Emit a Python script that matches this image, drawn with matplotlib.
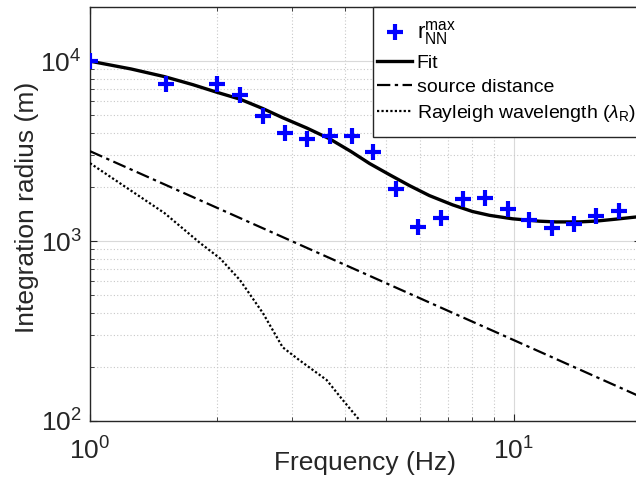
import numpy as np
import matplotlib
matplotlib.use("Agg")
import matplotlib.pyplot as plt
from matplotlib.patches import Rectangle
from matplotlib.ticker import LogLocator, NullFormatter

plt.rcParams['font.family'] = ['Liberation Sans', 'DejaVu Sans']
plt.rcParams['mathtext.fontset'] = 'custom'
plt.rcParams['mathtext.rm'] = 'Liberation Sans'
plt.rcParams['mathtext.it'] = 'Liberation Sans:italic'
plt.rcParams['mathtext.bf'] = 'Liberation Sans:bold'

# r_NN^max data points
f_pts = [1.0, 1.51, 2.0, 2.26, 2.56, 2.88, 3.25, 3.68, 4.15, 4.67, 5.27, 5.94,
         6.73, 7.59, 8.55, 9.68, 10.9, 12.3, 13.9, 15.7, 17.7]
r_pts = [10000, 7450, 7450, 6480, 4950, 3980, 3690, 3830, 3830, 3120, 1950, 1200,
         1340, 1710, 1730, 1510, 1310, 1180, 1240, 1380, 1470]

# Fit curve
f_fit = [1.0, 1.25, 1.5, 1.75, 2.0, 2.26, 2.56, 2.85, 3.25, 3.68, 4.13, 4.57,
         5.11, 5.69, 6.33, 7.18, 8.0, 8.78, 9.95, 11.5, 12.6, 14.3, 15.7, 17.5,
         19.4, 20.0]
r_fit = [10000, 9050, 8200, 7400, 6700, 6150, 5450, 4850, 4250, 3700, 3150, 2700,
         2330, 2030, 1790, 1590, 1460, 1390, 1330, 1290, 1278, 1278, 1292, 1325,
         1360, 1372]

# Source distance
f_src = [1.0, 10.0, 20.0]
r_src = [3160, 282, 136]

# Rayleigh wavelength
f_ray = [1.0, 1.5, 1.82, 2.03, 2.26, 2.56, 2.85, 3.12, 3.62, 3.95, 4.33]
r_ray = [2710, 1430, 975, 800, 607, 398, 257, 218, 169, 131, 101]

W, H = 636, 479
fig = plt.figure(figsize=(W/100, H/100), dpi=100)
ax = fig.add_axes([90/W, 1-421/H, 551/W, 414/H])

ax.plot(f_pts, r_pts, linestyle='none', marker='+', color=(0, 0, 1),
        markersize=11, markeredgewidth=3, label=r'$\mathrm{r}_{\mathrm{NN}}^{\mathrm{max}}$',
        zorder=4)
ax.plot(f_fit, r_fit, color='black', lw=2.4, label='Fit', zorder=3)
ax.plot(f_src, r_src, color='black', lw=1.6, linestyle=(0, (6, 2, 1.5, 2)),
        label='source distance', zorder=3)
ax.plot(f_ray, r_ray, color='black', lw=1.6, linestyle=(0, (1, 1)),
        label=r'Rayleigh wavelength ($\lambda_\mathrm{R}$)', zorder=3)

ax.set_xscale('log')
ax.set_yscale('log')
ax.set_xlim(1, 20)
ax.set_ylim(100, 20000)

ax.xaxis.set_major_locator(LogLocator(base=10, numticks=10))
ax.yaxis.set_major_locator(LogLocator(base=10, numticks=10))
ax.xaxis.set_minor_locator(LogLocator(base=10, subs=np.arange(2, 10), numticks=20))
ax.yaxis.set_minor_locator(LogLocator(base=10, subs=np.arange(2, 10), numticks=20))
ax.xaxis.set_minor_formatter(NullFormatter())
ax.yaxis.set_minor_formatter(NullFormatter())

ax.grid(True, which='major', color='#d9d9d9', linestyle='-', lw=0.8)
ax.grid(True, which='minor', color='#c8c8c8', linestyle=(0, (1, 2)), lw=0.8)
ax.set_axisbelow(True)

ax.tick_params(which='both', direction='in', top=True, right=True, colors='#262626')
ax.tick_params(which='major', length=5, width=0.8, labelsize=19)
ax.tick_params(which='minor', length=3, width=0.6)
ax.tick_params(axis='x', which='major', pad=12)
ax.tick_params(axis='y', which='major', pad=6)
for s in ax.spines.values():
    s.set_color('#262626')
    s.set_linewidth(1.0)

ax.set_xlabel('Frequency (Hz)', fontsize=19, color='#262626', va='center')
ax.xaxis.set_label_coords(0.5, -0.101)
ax.set_ylabel('Integration radius (m)', fontsize=19, color='#262626', va='center')
ax.yaxis.set_label_coords(-0.114, 0.517)

# legend frame drawn as a figure rectangle (extends past the right edge)
frame = Rectangle((373/W, 1-137/H), 0.6, 130/H, transform=fig.transFigure,
                  facecolor='white', edgecolor='#262626', lw=1.0, zorder=4)
fig.patches.append(frame)

leg = fig.legend(loc='upper left', bbox_to_anchor=(377/W, 1-19/H),
                 fontsize=14, frameon=False, handlelength=1.8, handletextpad=0.25,
                 labelspacing=0.36, borderaxespad=0, borderpad=0)
leg.set_zorder(6)
leg.get_texts()[0].set_fontsize(16)

fig.savefig('out.png', dpi=100)
